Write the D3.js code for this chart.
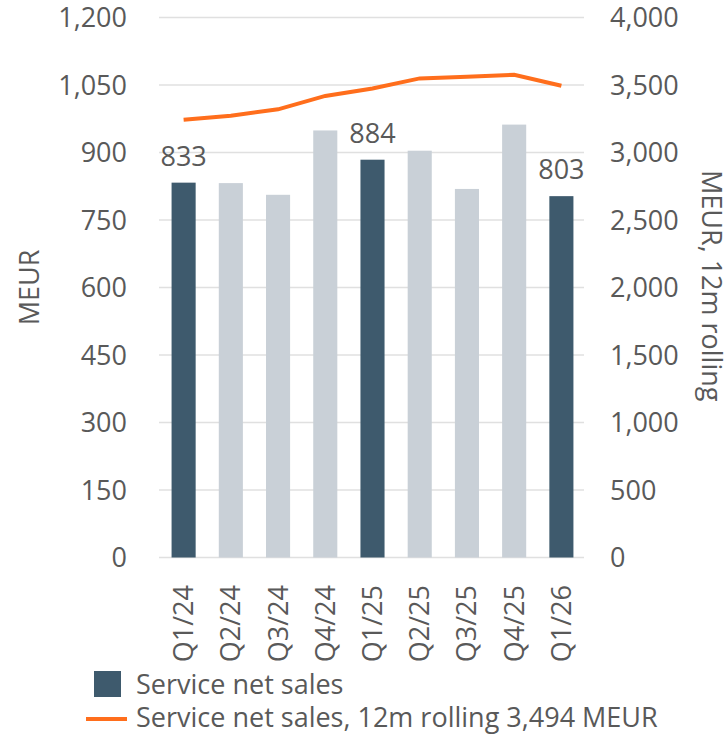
<!DOCTYPE html>
<html>
<head>
<meta charset="utf-8">
<script src="https://cdn.jsdelivr.net/npm/d3@7"></script>
<style>
  body { margin: 0; background: #fff; }
  svg text { font-family: "Open Sans", "Noto Sans", sans-serif; fill: #595959; }
</style>
</head>
<body>
<svg id="chart" width="728" height="734"></svg>
<script>
// quarters and values
var quarters = ["Q1/24", "Q2/24", "Q3/24", "Q4/24", "Q1/25", "Q2/25", "Q3/25", "Q4/25", "Q1/26"];
var sales = [833, 832, 806, 949, 884, 904, 819, 962, 803];
var rolling = [3243, 3273, 3320, 3419, 3474, 3549, 3561, 3576, 3494];
var leftTicks = [0, 150, 300, 450, 600, 750, 900, 1050, 1200];
var rightTicks = [0, 500, 1000, 1500, 2000, 2500, 3000, 3500, 4000];

var darkBar = "#3e5a6d",
	lightBar = "#c9d0d7",
	orange = "#ff6e1c";

var svg = d3.select("#chart");
var plotTop = 17.5, plotBottom = 557.5, plotLeft = 160, plotRight = 585;
var fs = "27px";

var x = d3.scaleBand()
	.domain(quarters)
	.range([plotLeft, plotRight])
	.paddingInner(0.49)
	.paddingOuter(0.245);

var yL = d3.scaleLinear().domain([0, 1200]).range([plotBottom, plotTop]);
var yR = d3.scaleLinear().domain([0, 4000]).range([plotBottom, plotTop]);

// gridlines
svg.append("g")
	.selectAll("line")
	.data(leftTicks)
	.enter()
	.append("line")
	.attr("x1", plotLeft - 1)
	.attr("x2", plotRight - 1)
	.attr("y1", function (d) { return yL(d); })
	.attr("y2", function (d) { return yL(d); })
	.attr("stroke", "#e0e0e0")
	.attr("stroke-width", 1.5);

// left axis
var axL = svg.append("g")
	.attr("transform", "translate(" + 127 + ",0)")
	.call(d3.axisLeft(yL).tickValues(leftTicks).tickSize(0).tickPadding(0).tickFormat(d3.format(",")));
axL.select(".domain").remove();
axL.selectAll("text").attr("font-size", fs).attr("dy", "0.35em").attr("font-family", null);

// right axis
var axR = svg.append("g")
	.attr("transform", "translate(" + 610 + ",0)")
	.call(d3.axisRight(yR).tickValues(rightTicks).tickSize(0).tickPadding(0).tickFormat(d3.format(",")));
axR.select(".domain").remove();
axR.selectAll("text").attr("font-size", fs).attr("dy", "0.35em").attr("font-family", null);

// bars
svg.append("g")
	.selectAll("rect")
	.data(sales)
	.enter()
	.append("rect")
	.attr("x", function (d, i) { return x(quarters[i]); })
	.attr("width", x.bandwidth())
	.attr("y", function (d) { return yL(d); })
	.attr("height", function (d) { return plotBottom - yL(d); })
	.attr("fill", function (d, i) { return quarters[i].indexOf("Q1") === 0 ? darkBar : lightBar; });

// value labels on Q1 bars
svg.append("g")
	.selectAll("text")
	.data(sales.map(function (d, i) { return { q: quarters[i], v: d }; })
		.filter(function (d) { return d.q.indexOf("Q1") === 0; }))
	.enter()
	.append("text")
	.attr("x", function (d) { return x(d.q) + x.bandwidth() / 2; })
	.attr("y", function (d) { return yL(d.v) - 17; })
	.attr("text-anchor", "middle")
	.attr("font-size", fs)
	.text(function (d) { return d3.format(",")(d.v); });

// rolling line
var line = d3.line()
	.x(function (d, i) { return x(quarters[i]) + x.bandwidth() / 2; })
	.y(function (d) { return yR(d); });

svg.append("path")
	.datum(rolling)
	.attr("d", line)
	.attr("fill", "none")
	.attr("stroke", orange)
	.attr("stroke-width", 4);

// category labels
svg.append("g")
	.selectAll("text")
	.data(quarters)
	.enter()
	.append("text")
	.attr("transform", function (d) {
		return "translate(" + (x(d) + x.bandwidth() / 2 + 9.5) + ",585) rotate(-90)";
	})
	.attr("text-anchor", "end")
	.attr("font-size", fs)
	.text(function (d) { return d; });

// axis titles
svg.append("text")
	.attr("transform", "translate(39," + ((plotTop + plotBottom) / 2) + ") rotate(-90)")
	.attr("text-anchor", "middle")
	.attr("font-size", fs)
	.text("MEUR");

svg.append("text")
	.attr("transform", "translate(702,170) rotate(90)")
	.attr("text-anchor", "start")
	.attr("font-size", fs)
	.text("MEUR, 12m rolling");

// legend
svg.append("rect")
	.attr("x", 94).attr("y", 671)
	.attr("width", 27).attr("height", 26)
	.attr("fill", darkBar);
svg.append("text")
	.attr("x", 136).attr("y", 694)
	.attr("font-size", fs)
	.text("Service net sales");

svg.append("line")
	.attr("x1", 86).attr("x2", 127)
	.attr("y1", 719).attr("y2", 719)
	.attr("stroke", orange)
	.attr("stroke-width", 4);
svg.append("text")
	.attr("x", 136).attr("y", 727)
	.attr("font-size", fs)
	.text("Service net sales, 12m rolling 3,494 MEUR");
</script>
</body>
</html>
